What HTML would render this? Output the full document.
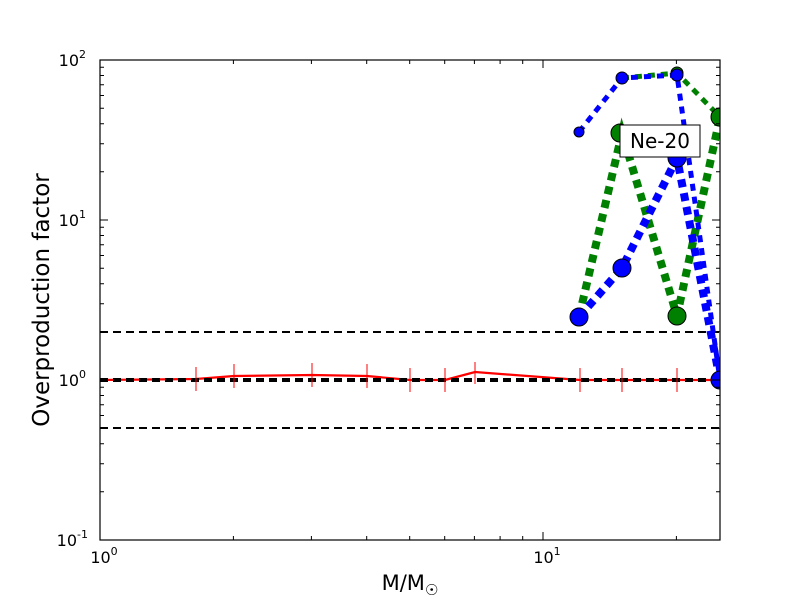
<!DOCTYPE html>
<html><head><style>body{margin:0;background:#fff}svg{display:block}text{font-family:"DejaVu Sans","Liberation Sans",sans-serif}</style></head>
<body>
<svg width="800" height="600" viewBox="0 0 800 600">
<rect x="0" y="0" width="800" height="600" fill="#fff"/>
<defs><clipPath id="c"><rect x="100" y="60" width="620" height="480"/></clipPath></defs>
<g clip-path="url(#c)">
<line x1="100" y1="332" x2="720" y2="332" stroke="#000" stroke-width="2" stroke-dasharray="8,5"/>
<line x1="100" y1="428" x2="720" y2="428" stroke="#000" stroke-width="2" stroke-dasharray="8,5"/>
<polyline points="100,380 196,379 234,376 312,375 367,376 410,380 445,380 475,372 580,380 622,380 677,380 720,380" fill="none" stroke="#f00" stroke-width="2.2"/>
<line x1="100" y1="380" x2="720" y2="380" stroke="#000" stroke-width="4" stroke-dasharray="8,5"/>
<g stroke="#f00" stroke-width="1">
<line x1="196" y1="367" x2="196" y2="391"/><line x1="234" y1="364" x2="234" y2="388"/><line x1="312" y1="363" x2="312" y2="387"/><line x1="367" y1="364" x2="367" y2="388"/><line x1="410" y1="368" x2="410" y2="392"/><line x1="445" y1="368" x2="445" y2="392"/><line x1="475" y1="362" x2="475" y2="384"/><line x1="580" y1="368" x2="580" y2="392"/><line x1="622" y1="368" x2="622" y2="392"/><line x1="677" y1="368" x2="677" y2="392"/>
</g>
<polyline points="579,317 622,133 677,316 720,117" fill="none" stroke="#008000" stroke-width="8" stroke-dasharray="8,6"/>
<polyline points="622,78 677,73 720,117" fill="none" stroke="#008000" stroke-width="5" stroke-dasharray="7,6"/>
<polyline points="579,317 622,268 677,158 720,380" fill="none" stroke="#00f" stroke-width="8" stroke-dasharray="8,6"/>
<polyline points="579,132 622,78 677,75 720,380" fill="none" stroke="#00f" stroke-width="5" stroke-dasharray="7,6"/>
<g stroke="#000" stroke-width="1">
<circle cx="620" cy="133" r="9" fill="#008000"/>
<circle cx="677" cy="316" r="9" fill="#008000"/>
<circle cx="720" cy="117" r="9" fill="#008000"/>
<circle cx="677" cy="73" r="6" fill="#008000"/>
<circle cx="579" cy="317" r="9" fill="#00f"/>
<circle cx="622" cy="268" r="9" fill="#00f"/>
<circle cx="677" cy="158" r="9" fill="#00f"/>
<circle cx="720" cy="380" r="9" fill="#00f"/>
<circle cx="579" cy="132" r="5" fill="#00f"/>
<circle cx="622" cy="78" r="6" fill="#00f"/>
<circle cx="677" cy="75" r="6" fill="#00f"/>
</g>
</g>
<rect x="620" y="125" width="80" height="32" fill="#fff" stroke="#000" stroke-width="1"/>
<text x="660" y="148" font-size="20" text-anchor="middle">Ne-20</text>
<rect x="100" y="60" width="620" height="480" fill="none" stroke="#000" stroke-width="1.2"/>
<g stroke="#000" stroke-width="1">
<path d="M100,60h8M100,220h8M100,380h8M100,540h8M720,60h-8M720,220h-8M720,380h-8M720,540h-8"/>
<path d="M100,491.8h4M100,463.7h4M100,443.7h4M100,428.2h4M100,415.5h4M100,404.8h4M100,395.5h4M100,387.3h4
M100,331.8h4M100,303.7h4M100,283.7h4M100,268.2h4M100,255.5h4M100,244.8h4M100,235.5h4M100,227.3h4
M100,171.8h4M100,143.7h4M100,123.7h4M100,108.2h4M100,95.5h4M100,84.8h4M100,75.5h4M100,67.3h4
M720,491.8h-4M720,463.7h-4M720,443.7h-4M720,428.2h-4M720,415.5h-4M720,404.8h-4M720,395.5h-4M720,387.3h-4
M720,331.8h-4M720,303.7h-4M720,283.7h-4M720,268.2h-4M720,255.5h-4M720,244.8h-4M720,235.5h-4M720,227.3h-4
M720,171.8h-4M720,143.7h-4M720,123.7h-4M720,108.2h-4M720,95.5h-4M720,84.8h-4M720,75.5h-4M720,67.3h-4"/>
<path d="M100,540v-8M543,540v-8M100,60v8M543,60v8"/>
<path d="M233.4,540v-4M311.4,540v-4M366.7,540v-4M409.7,540v-4M444.7,540v-4M474.4,540v-4M500.1,540v-4M522.7,540v-4M676.4,540v-4
M233.4,60v4M311.4,60v4M366.7,60v4M409.7,60v4M444.7,60v4M474.4,60v4M500.1,60v4M522.7,60v4M676.4,60v4"/>
</g>
<g font-size="16" text-anchor="end">
<text x="86" y="66">10<tspan font-size="11" dy="-8">2</tspan></text>
<text x="86" y="226">10<tspan font-size="11" dy="-8">1</tspan></text>
<text x="86" y="386">10<tspan font-size="11" dy="-8">0</tspan></text>
<text x="88" y="546">10<tspan font-size="11" dy="-8">-1</tspan></text>
</g>
<g font-size="16" text-anchor="middle">
<text x="104" y="563">10<tspan font-size="11" dy="-8">0</tspan></text>
<text x="547" y="563">10<tspan font-size="11" dy="-8">1</tspan></text>
</g>
<text x="410" y="590" font-size="21" text-anchor="middle">M/M<tspan font-size="15" dy="5">☉</tspan></text>
<text transform="translate(49,300) rotate(-90)" font-size="23" text-anchor="middle">Overproduction factor</text>
</svg>
</body></html>
